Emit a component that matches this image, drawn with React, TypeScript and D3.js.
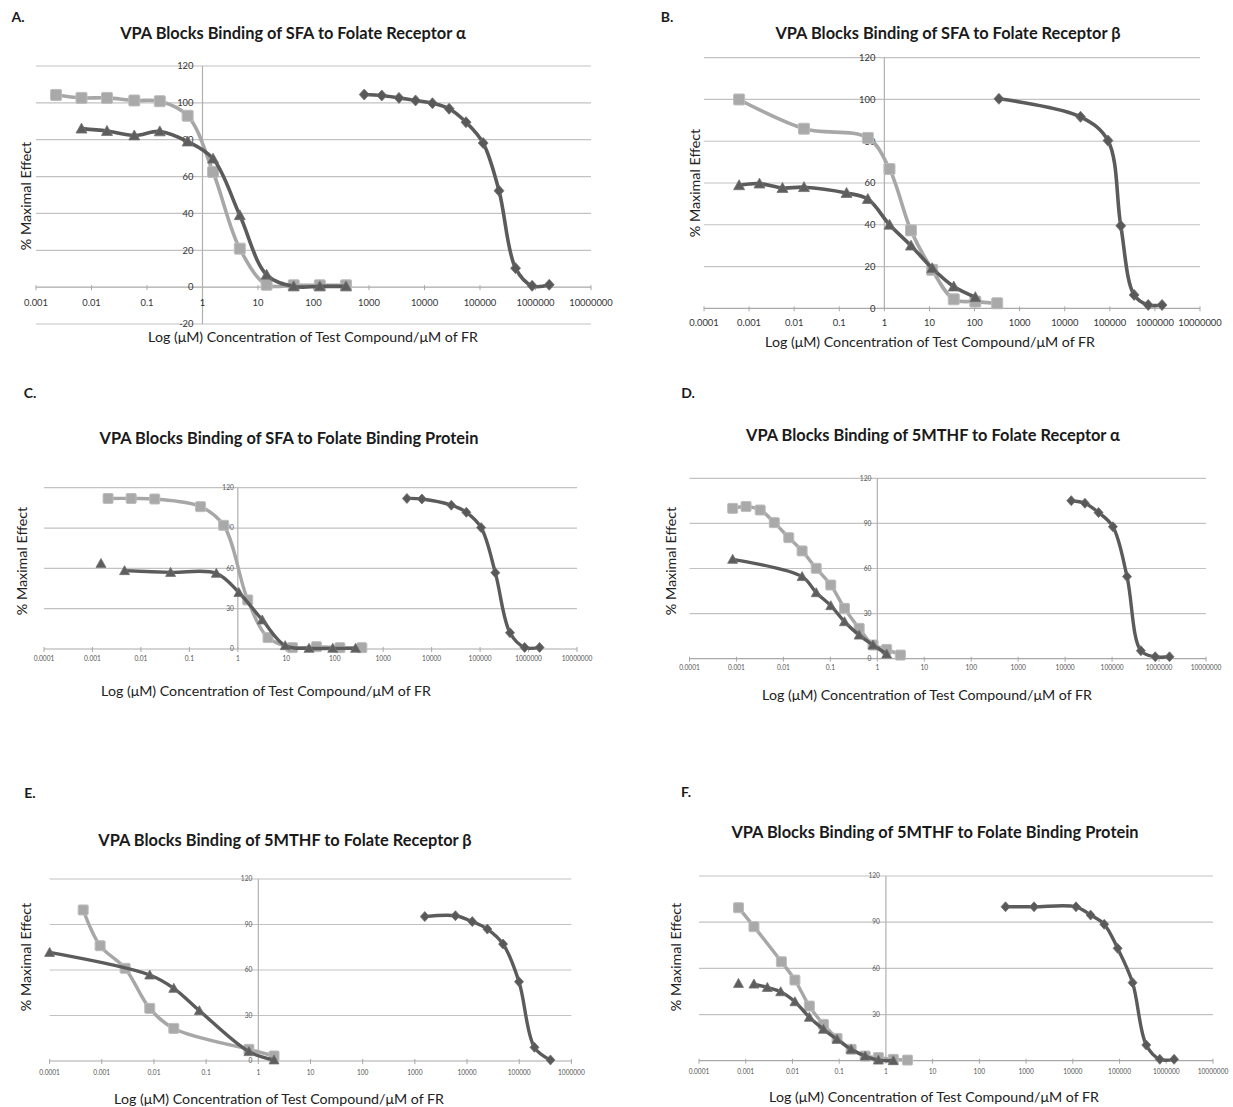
import { useEffect, useRef } from 'react';
import * as d3 from 'd3';

const xTitle = 'Log (μM) Concentration of Test Compound/μM of FR';
const yTitle = '% Maximal Effect';

// tick labels
const xTicksA = [0.001, 0.01, 0.1, 1, 10, 100, 1000, 10000, 100000, 1000000, 10000000];
const xTicksWide = [0.0001, 0.001, 0.01, 0.1, 1, 10, 100, 1000, 10000, 100000, 1000000, 10000000];
const xTicksE = [0.0001, 0.001, 0.01, 0.1, 1, 10, 100, 1000, 10000, 100000, 1000000];
const yTicksA = [-20, 0, 20, 40, 60, 80, 100, 120];
const yTicksB = [0, 20, 40, 60, 80, 100, 120];
const yTicks30 = [0, 30, 60, 90, 120];

// A. SFA / FR alpha
const aSqX = [0.0023, 0.0066, 0.019, 0.059, 0.17, 0.54, 1.55, 4.7, 14.3, 44, 130, 385];
const aSqY = [104.3, 102.7, 102.7, 101.3, 100.9, 93, 62.5, 20.9, 1.3, 1, 1, 1];
const aTriX = [0.0066, 0.019, 0.059, 0.17, 0.54, 1.55, 4.7, 14.3, 44, 130, 385];
const aTriY = [86, 84.7, 82.3, 84.5, 79, 69.7, 39, 6.7, 0.4, 0.4, 0.4];
const aDiaX = [820, 1700, 3470, 6900, 13900, 27800, 56000, 114000, 220000, 437000, 870000, 1770000];
const aDiaY = [104.5, 104, 102.7, 101.3, 99.8, 96.8, 89.5, 78.2, 52.3, 10.3, 0.7, 1.3];

// B. SFA / FR beta
const bSqX = [0.0006, 0.0165, 0.43, 1.3, 3.9, 11.5, 34.6, 104, 318];
const bSqY = [100, 86, 81.6, 66.7, 37.3, 18.4, 4.3, 3.2, 2.4];
const bTriX = [0.0006, 0.0017, 0.0055, 0.0165, 0.145, 0.43, 1.3, 3.9, 11.5, 34.6, 104];
const bTriY = [58.9, 59.7, 57.6, 58, 55.2, 52.3, 40, 30, 19.2, 10.4, 5.3];
const bDiaX = [347, 22400, 91000, 175000, 346000, 710000, 1440000];
const bDiaY = [100.3, 91.7, 80.3, 39.5, 6.4, 1.6, 1.6];

// C. SFA / folate binding protein
const cSqX = [0.0021, 0.0063, 0.0193, 0.17, 0.51, 1.6, 4.2, 13.4, 41.9, 128, 363];
const cSqY = [112, 112, 111.6, 105.9, 92, 36.5, 8.5, 1, 1.7, 1, 1];
const cTriX = [0.0015, 0.0046, 0.041, 0.36, 1.05, 3.2, 9.5, 29.5, 91, 269];
const cTriY = [63.7, 58.3, 57, 56.3, 42, 21.6, 2.5, 0.5, 0.5, 0.5];
const cDiaX = [3090, 6300, 25500, 52000, 105000, 206000, 414000, 830000, 1690000];
const cDiaY = [112, 111.6, 107, 101.7, 90.3, 56.8, 12.1, 1.2, 1.2];

// D. 5MTHF / FR alpha
const dSqX = [0.00083, 0.0016, 0.0032, 0.0064, 0.013, 0.025, 0.05, 0.102, 0.2, 0.41, 0.81, 1.58, 3.1];
const dSqY = [100, 101.2, 98.9, 90.5, 80.5, 71.7, 60.1, 49, 33.5, 20.2, 9.1, 6.2, 2.4];
const dTriX = [0.00083, 0.025, 0.05, 0.102, 0.2, 0.41, 0.81, 1.58];
const dTriY = [66.1, 54.6, 43.9, 35.3, 24.6, 15.7, 9.1, 3.1];
const dDiaX = [13500, 26400, 51500, 104000, 208000, 410000, 830000, 1670000];
const dDiaY = [105.1, 103.4, 97.2, 87.8, 54.6, 5.3, 1.3, 1.3];

// E. 5MTHF / FR beta
const eSqX = [0.00044, 0.00093, 0.0028, 0.0083, 0.024, 0.66, 2.0];
const eSqY = [99.6, 76, 61.1, 34.7, 21.5, 7.7, 3.3];
const eTriX = [0.0001, 0.0083, 0.024, 0.074, 0.66, 2.0];
const eTriY = [71.6, 56.7, 47.9, 33.2, 6.2, 0.7];
const eDiaX = [1550, 6000, 12600, 24500, 49000, 99000, 196000, 397000];
const eDiaY = [95.2, 95.8, 91.9, 87, 77.1, 52.3, 9, 0.7];

// F. 5MTHF / folate binding protein
const fSqX = [0.0007, 0.0015, 0.0058, 0.0113, 0.023, 0.046, 0.09, 0.18, 0.36, 0.69, 1.44, 2.9];
const fSqY = [99.4, 87.1, 64.3, 52.4, 35.5, 23.6, 14.5, 7.4, 3, 2, 0.9, 0.4];
const fTriX = [0.0007, 0.0015, 0.0029, 0.0056, 0.0113, 0.023, 0.046, 0.09, 0.18, 0.36, 0.69, 1.44];
const fTriY = [50.2, 49.8, 47.6, 44.8, 38.3, 28.2, 20.4, 13.9, 7.4, 3, 0.4, 0];
const fDiaX = [363, 1480, 11700, 24000, 47000, 91000, 190000, 373000, 727000, 1470000];
const fDiaY = [100, 100, 100, 94.6, 88.6, 73, 50.7, 10.2, 0.9, 0.9];

const FONT = 'Lato, "Open Sans", sans-serif';

const panels = [
  { label: 'A.', title: 'VPA Blocks Binding of SFA to Folate Receptor  α',
    sq: [aSqX, aSqY], tri: [aTriX, aTriY], dia: [aDiaX, aDiaY], triBreak: false,
    xTicks: xTicksA, yTicks: yTicksA, big: true,
    left: 36, right: 591, top: 66, bottom: 324, xLabY: 303, yGap: 9,
    labXY: [18, 17], titleXY: [293, 33], xTitleXY: [313, 337], yTitleXY: [26, 196] },
  { label: 'B.', title: 'VPA Blocks Binding of SFA to Folate Receptor β',
    sq: [bSqX, bSqY], tri: [bTriX, bTriY], dia: [bDiaX, bDiaY], triBreak: false,
    xTicks: xTicksWide, yTicks: yTicksB, big: true,
    left: 704, right: 1200, top: 57.7, bottom: 308.3, xLabY: 323, yGap: 9,
    labXY: [667, 17], titleXY: [948, 33], xTitleXY: [930, 342], yTitleXY: [695, 183] },
  { label: 'C.', title: 'VPA Blocks Binding of SFA to  Folate Binding Protein',
    sq: [cSqX, cSqY], tri: [cTriX, cTriY], dia: [cDiaX, cDiaY], triBreak: true,
    xTicks: xTicksWide, yTicks: yTicks30, big: false,
    left: 44, right: 577, top: 487.7, bottom: 649, xLabY: 659, yGap: 4,
    labXY: [30, 393], titleXY: [289, 438], xTitleXY: [266, 691], yTitleXY: [22, 561] },
  { label: 'D.', title: 'VPA Blocks Binding of 5MTHF to Folate Receptor α',
    sq: [dSqX, dSqY], tri: [dTriX, dTriY], dia: [dDiaX, dDiaY], triBreak: false,
    xTicks: xTicksWide, yTicks: yTicks30, big: false,
    left: 689.5, right: 1206, top: 478.3, bottom: 658.7, xLabY: 668, yGap: 6,
    labXY: [688, 393], titleXY: [933, 435], xTitleXY: [927, 695], yTitleXY: [671, 561] },
  { label: 'E.', title: 'VPA Blocks Binding of 5MTHF to Folate Receptor β',
    sq: [eSqX, eSqY], tri: [eTriX, eTriY], dia: [eDiaX, eDiaY], triBreak: false,
    xTicks: xTicksE, yTicks: yTicks30, big: false,
    left: 49.6, right: 571.4, top: 879, bottom: 1061, xLabY: 1073, yGap: 6,
    labXY: [30, 793], titleXY: [285, 840], xTitleXY: [279, 1099], yTitleXY: [26, 957] },
  { label: 'F.', title: 'VPA Blocks Binding of 5MTHF to Folate Binding Protein',
    sq: [fSqX, fSqY], tri: [fTriX, fTriY], dia: [fDiaX, fDiaY], triBreak: true,
    xTicks: xTicksWide, yTicks: yTicks30, big: false,
    left: 699, right: 1213, top: 876, bottom: 1060.7, xLabY: 1072, yGap: 6,
    labXY: [686, 792], titleXY: [935, 832], xTitleXY: [934, 1097], yTitleXY: [676, 957] },
];

const fmtTick = (v: number) => (v < 1 ? v.toFixed(Math.round(-Math.log10(v))) : String(v));

const LIGHT = '#a7a7a7';
const DARK = '#5b5b5b';

const App = () => {
  const svgRef = useRef<SVGSVGElement>(null);

  useEffect(() => {
    const svg = d3.select(svgRef.current);
    svg.selectAll('*').remove();

    panels.forEach((p) => {
      const g = svg.append('g');
      const x = d3.scaleLog()
        .domain([p.xTicks[0], p.xTicks[p.xTicks.length - 1]])
        .range([p.left, p.right]);
      const y = d3.scaleLinear()
        .domain([p.yTicks[0], p.yTicks[p.yTicks.length - 1]])
        .range([p.bottom, p.top]);
      const tickSize = p.big ? 9.4 : 6.6;

      // gridlines
      g.selectAll('.grid')
        .data(p.yTicks.filter((v) => v !== 0))
        .join('line')
        .attr('x1', p.left).attr('x2', p.right)
        .attr('y1', (d) => y(d)).attr('y2', (d) => y(d))
        .attr('stroke', '#c2c2c2').attr('stroke-width', 1.2);

      // x axis at 0
      const y0 = y(0);
      g.append('line')
        .attr('x1', p.left).attr('x2', p.right)
        .attr('y1', y0).attr('y2', y0)
        .attr('stroke', '#a9a9a9').attr('stroke-width', 1.2);
      g.selectAll('.xtick')
        .data(p.xTicks)
        .join('line')
        .attr('x1', (d) => x(d)).attr('x2', (d) => x(d))
        .attr('y1', y0 - 2).attr('y2', y0 + 3)
        .attr('stroke', '#a9a9a9');

      // y axis at x = 1
      const xa = x(1);
      g.append('line')
        .attr('x1', xa).attr('x2', xa)
        .attr('y1', p.top).attr('y2', p.bottom)
        .attr('stroke', '#b0b0b0').attr('stroke-width', 1.2);

      g.selectAll('.xlab')
        .data(p.xTicks)
        .join('text')
        .attr('x', (d) => x(d)).attr('y', p.xLabY)
        .attr('dy', '0.35em')
        .attr('text-anchor', 'middle')
        .attr('font-family', FONT).attr('font-size', tickSize)
        .attr('fill', p.big ? '#333' : '#555')
        .text((d) => fmtTick(d));

      g.selectAll('.ylab')
        .data(p.yTicks)
        .join('text')
        .attr('x', xa - p.yGap).attr('y', (d) => y(d))
        .attr('dy', '0.35em')
        .attr('text-anchor', 'end')
        .attr('font-family', FONT).attr('font-size', tickSize)
        .attr('fill', p.big ? '#333' : '#555')
        .text((d) => String(d));

      // titles
      g.append('text')
        .attr('x', p.labXY[0]).attr('y', p.labXY[1]).attr('dy', '0.35em')
        .attr('text-anchor', 'middle')
        .attr('font-family', FONT).attr('font-weight', 'bold').attr('font-size', 14)
        .attr('fill', '#1a1a1a')
        .text(p.label);
      g.append('text')
        .attr('x', p.titleXY[0]).attr('y', p.titleXY[1]).attr('dy', '0.35em')
        .attr('text-anchor', 'middle')
        .attr('font-family', FONT).attr('font-weight', 'bold').attr('font-size', 16.4)
        .attr('fill', '#1a1a1a')
        .text(p.title);
      g.append('text')
        .attr('x', p.xTitleXY[0]).attr('y', p.xTitleXY[1]).attr('dy', '0.35em')
        .attr('text-anchor', 'middle')
        .attr('font-family', FONT).attr('font-size', 14.2)
        .attr('fill', '#222')
        .text(xTitle);
      g.append('text')
        .attr('transform', `translate(${p.yTitleXY[0]},${p.yTitleXY[1]}) rotate(-90)`)
        .attr('dy', '0.35em')
        .attr('text-anchor', 'middle')
        .attr('font-family', FONT).attr('font-size', 14.3)
        .attr('fill', '#222')
        .text(yTitle);

      const line = d3.line<[number, number]>()
        .x((d) => x(d[0]))
        .y((d) => y(d[1]))
        .curve(d3.curveCatmullRom.alpha(0.5));

      const sq = d3.zip(p.sq[0], p.sq[1]) as [number, number][];
      const tri = d3.zip(p.tri[0], p.tri[1]) as [number, number][];
      const dia = d3.zip(p.dia[0], p.dia[1]) as [number, number][];
      const lw = p.big ? 3.6 : 3.4;
      const ms = p.big ? 5.5 : 5;

      // diamonds
      g.append('path').attr('d', line(dia)).attr('fill', 'none')
        .attr('stroke', DARK).attr('stroke-width', lw).attr('stroke-linejoin', 'round');
      g.selectAll('.dia')
        .data(dia)
        .join('path')
        .attr('d', (d) => {
          const cx = x(d[0]), cy = y(d[1]), r = ms;
          return `M${cx},${cy - r}L${cx + r * 0.9},${cy}L${cx},${cy + r}L${cx - r * 0.9},${cy}Z`;
        })
        .attr('fill', '#595959').attr('stroke', '#6e6e6e').attr('stroke-width', 0.8);

      // squares
      g.append('path').attr('d', line(sq)).attr('fill', 'none')
        .attr('stroke', LIGHT).attr('stroke-width', lw).attr('stroke-linejoin', 'round');
      g.selectAll('.sq')
        .data(sq)
        .join('rect')
        .attr('x', (d) => x(d[0]) - ms).attr('y', (d) => y(d[1]) - ms)
        .attr('width', ms * 2).attr('height', ms * 2)
        .attr('rx', 1.2)
        .attr('fill', '#a9a9a9').attr('stroke', '#bdbdbd').attr('stroke-width', 1);

      // triangles
      g.append('path').attr('d', line(p.triBreak ? tri.slice(1) : tri)).attr('fill', 'none')
        .attr('stroke', DARK).attr('stroke-width', lw).attr('stroke-linejoin', 'round');
      g.selectAll('.tri')
        .data(tri)
        .join('path')
        .attr('d', (d) => {
          const cx = x(d[0]), cy = y(d[1]), r = ms;
          return `M${cx},${cy - r}L${cx + r},${cy + r * 0.8}L${cx - r},${cy + r * 0.8}Z`;
        })
        .attr('fill', '#5e5e5e').attr('stroke', '#727272').attr('stroke-width', 0.8);
    });
  }, []);

  return (
    <svg
      ref={svgRef}
      width={1233}
      height={1107}
      style={{ position: 'absolute', left: 0, top: 0, background: '#fff' }}
    />
  );
};

export default App;
